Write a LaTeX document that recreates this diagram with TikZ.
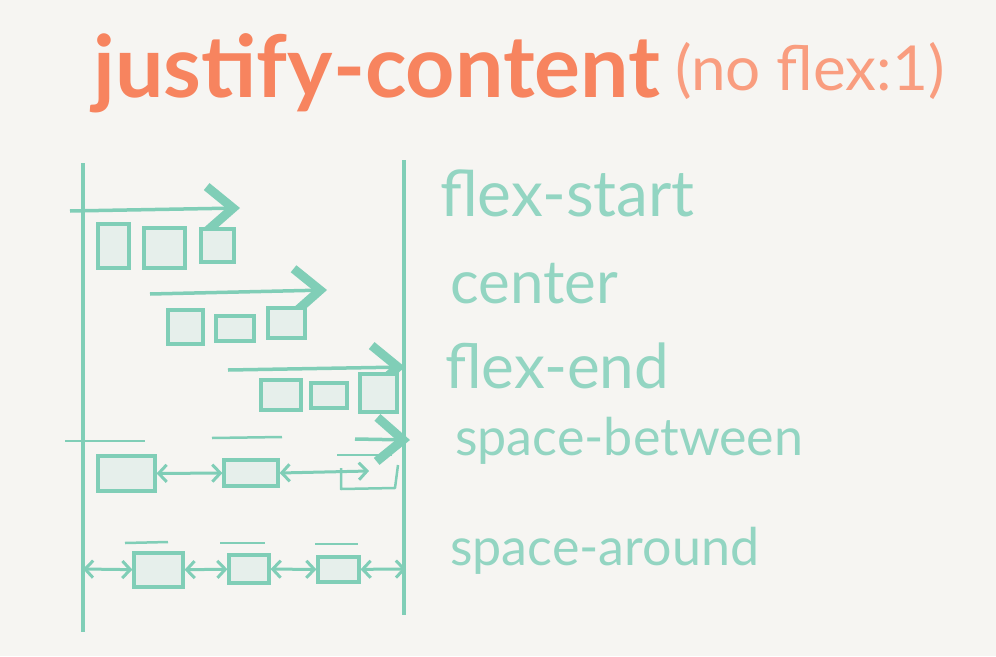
\documentclass[tikz,border=0pt]{standalone}
\usepackage{fontspec}
\setmainfont{Lato}
\usetikzlibrary{arrows.meta}
\definecolor{paper}{RGB}{246,245,242}
\definecolor{mint}{RGB}{128,206,183}
\definecolor{mintfill}{RGB}{230,239,235}
\definecolor{coral}{RGB}{247,132,95}
\tikzset{
  box/.style={draw=mint, line width=3.2pt, fill=mintfill, inner sep=0pt},
  flow/.style={mint, line width=3.5pt, -{Straight Barb[length=26pt,width=44pt,line width=9pt]}},
  gap/.style={mint, line width=3pt, {Straight Barb[length=8pt,width=17pt]}-{Straight Barb[length=8pt,width=17pt]}},
  rule/.style={mint, line width=2.5pt},
  lbl/.style={mint!85, font=\fontsize{#1}{#1}\selectfont, anchor=base west, inner sep=0pt},
}
\begin{document}
\begin{tikzpicture}[x=1pt,y=-1pt]
    \fill[paper] (0,0) rectangle (996,656);
    % title
    \node[coral, font=\fontsize{86}{90}\selectfont\bfseries, anchor=base west, inner sep=0pt] (title) at (93,97) {justify-content};
    \node[coral!80, font=\fontsize{62}{66}\selectfont, anchor=base west, inner sep=0pt] (note) at (675,90) {(no flex:1)};
    % container walls
    \coordinate (wl-top) at (83,163);
    \coordinate (wl-bot) at (83,632);
    \coordinate (wr-top) at (404,160);
    \coordinate (wr-bot) at (404,615);
    \draw[mint, line width=4pt] (wl-top) -- (wl-bot);
    \draw[mint, line width=4pt] (wr-top) -- (wr-bot);
    % flex-start
    \coordinate (f1s) at (70,211);
    \coordinate (f1e) at (240,208);
    \draw[flow] (f1s) -- (f1e);
    \node[box, minimum width=31pt, minimum height=44pt] (s1) at (113.5,246) {};
    \node[box, minimum width=41pt, minimum height=40pt] (s2) at (164.5,248) {};
    \node[box, minimum width=33pt, minimum height=33pt] (s3) at (217.5,245.5) {};
    % center
    \coordinate (f2s) at (150,294);
    \coordinate (f2e) at (327,290);
    \draw[flow] (f2s) -- (f2e);
    \node[box, minimum width=35pt, minimum height=34pt] (c1) at (185.5,327) {};
    \node[box, minimum width=38pt, minimum height=25pt] (c2) at (235,328.5) {};
    \node[box, minimum width=37pt, minimum height=30pt] (c3) at (286.5,323) {};
    % flex-end
    \coordinate (f3s) at (228,370);
    \coordinate (f3e) at (405,367);
    \draw[flow] (f3s) -- (f3e);
    \node[box, minimum width=40pt, minimum height=30pt] (e1) at (281,395) {};
    \node[box, minimum width=36pt, minimum height=25pt] (e2) at (329,395.5) {};
    \node[box, minimum width=37pt, minimum height=38pt] (e3) at (378.5,393) {};
    % space-between
    \coordinate (f4s) at (355,439);
    \coordinate (f4e) at (410,440);
    \draw[flow] (f4s) -- (f4e);
    \draw[rule] (65,441) -- (145,441);
    \draw[rule] (212,438) -- (282,437);
    \node[box, minimum width=57pt, minimum height=35pt] (b1) at (126.5,473.5) {};
    \node[box, minimum width=54pt, minimum height=26pt] (b2) at (251,473) {};
    \draw[rule] (337,455) -- (392,455);
    \draw[mint, line width=2.5pt, line join=round] (341,468) -- (341,489) -- (395,488) -- (398,465);
    \coordinate (b3) at (369,471);
    \draw[gap] (b1) -- (b2);
    \draw[gap] (b2.east) -- (b3);
    % space-around
    \draw[rule] (125,543) -- (168,542);
    \draw[rule] (220,543) -- (265,543);
    \draw[rule] (315,544) -- (358,544);
    \node[box, minimum width=49pt, minimum height=34pt] (a1) at (158.5,570) {};
    \node[box, minimum width=40pt, minimum height=28pt] (a2) at (249,569) {};
    \node[box, minimum width=41pt, minimum height=25pt] (a3) at (338.5,569.5) {};
    \coordinate (al) at (83,569);
    \coordinate (ar) at (406,569);
    \draw[gap] (al) -- (a1);
    \draw[gap] (a1) -- (a2);
    \draw[gap] (a2) -- (a3);
    \draw[gap] (a3) -- (ar);
    % labels
    \node[lbl=64] (l1) at (440,216) {flex-start};
    \node[lbl=60] (l2) at (450,303) {center};
    \node[lbl=62] (l3) at (445,388) {flex-end};
    \node[lbl=52] (l4) at (455,455) {space-between};
    \node[lbl=52] (l5) at (450,565) {space-around};
\end{tikzpicture}
\end{document}
